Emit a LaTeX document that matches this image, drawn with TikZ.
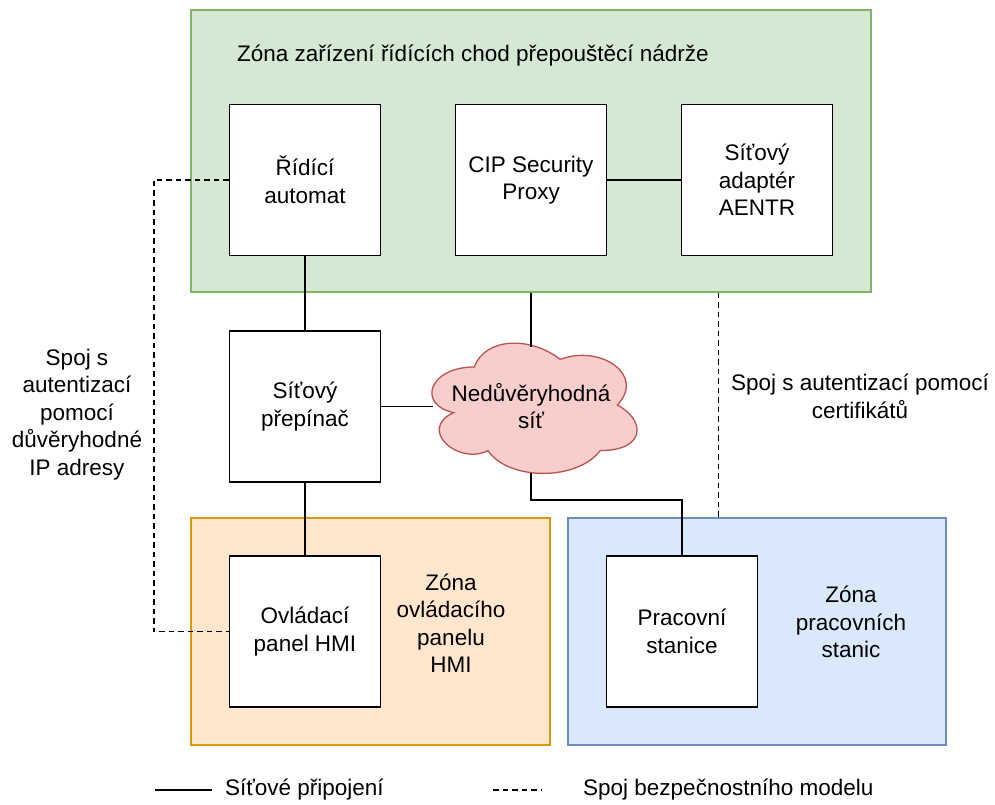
\documentclass[tikz,border=0pt]{standalone}
\usepackage{fontspec}
\setmainfont{Liberation Sans}
\usetikzlibrary{calc}

\definecolor{ctrlfill}{HTML}{D5E8D4}
\definecolor{ctrlline}{HTML}{82B366}
\definecolor{hmifill}{HTML}{FFE6CC}
\definecolor{hmiline}{HTML}{D79B00}
\definecolor{wsfill}{HTML}{DAE8FC}
\definecolor{wsline}{HTML}{6C8EBF}
\definecolor{cloudfill}{HTML}{F8CECC}
\definecolor{cloudline}{HTML}{B85450}

\newcommand{\lblfont}{\fontsize{22.5}{27.5}\selectfont}

\tikzset{
  zone/.style={draw, line width=1.3pt, inner sep=0pt},
  devbox/.style={draw=black, fill=white, line width=1.5pt, inner sep=0pt,
    minimum width=151pt, minimum height=151pt, align=center, font=\lblfont},
  lbl/.style={align=center, font=\lblfont, inner sep=0pt},
  netlink/.style={draw=black, line width=1.5pt},
  seclink/.style={draw=black, line width=1.5pt, dash pattern=on 5.5pt off 4pt},
}

\begin{document}
\begin{tikzpicture}[x=1pt, y=-1pt]
\useasboundingbox (0,0) rectangle (995,805);

% zones
\node[zone, fill=ctrlfill, draw=ctrlline, minimum width=680pt, minimum height=282pt] (zctrl) at (531,151) {};
\node[zone, fill=hmifill, draw=hmiline, minimum width=359pt, minimum height=227pt] (zhmi) at (370.5,631.5) {};
\node[zone, fill=wsfill, draw=wsline, minimum width=378pt, minimum height=227pt] (zws) at (757,631.5) {};

\node[lbl, anchor=base west] (tctrl) at (237,62) {Zóna zařízení řídících chod přepouštěcí nádrže};
\node[lbl] (thmi) at (451,623) {Zóna\\ovládacího\\panelu\\HMI};
\node[lbl] (tws) at (851,622) {Zóna\\pracovních\\stanic};

% devices
\node[devbox] (plc) at (305,180) {Řídící\\automat};
\node[devbox] (cip) at (531,180) {CIP Security\\Proxy};
\node[devbox] (aentr) at (757,180) {Síťový\\adaptér\\AENTR};
\node[devbox] (switch) at (305,406.5) {Síťový\\přepínač};
\node[devbox] (hmi) at (305,631.5) {Ovládací\\panel HMI};
\node[devbox] (ws) at (682,631.5) {Pracovní\\stanice};

% untrusted network cloud
\begin{scope}[shift={(417,329)}, x=229pt, y=-152pt]
  \draw[fill=cloudfill, draw=cloudline, line width=1.3pt]
    (0.25,0.25) .. controls (0.05,0.25) and (0,0.5) .. (0.16,0.55)
    .. controls (0,0.66) and (0.18,0.9) .. (0.31,0.8)
    .. controls (0.4,1) and (0.7,1) .. (0.8,0.8)
    .. controls (1,0.8) and (1,0.6) .. (0.875,0.5)
    .. controls (1,0.3) and (0.8,0.1) .. (0.625,0.2)
    .. controls (0.5,0.05) and (0.3,0.05) .. (0.25,0.25) -- cycle;
\end{scope}
\node[lbl] (net) at (531,406) {Nedůvěryhodná\\síť};
\coordinate (nettop) at (531,347);
\coordinate (netleft) at (433,406.5);
\coordinate (netbot) at (531,473);

% network connections
\draw[netlink] (cip) -- (aentr);
\draw[netlink] (plc) -- (switch);
\draw[netlink] (switch) -- (hmi);
\draw[netlink] (switch.east) -- (netleft);
\draw[netlink] (zctrl.south -| nettop) -- (nettop);
\draw[netlink] (netbot) -- ++(0,27) -| (ws.north);

% security model links
\draw[seclink] (plc.west) -- ++(-75,0) |- (hmi.west);
\coordinate (certtop) at ($(zctrl.south west)!0.775!(zctrl.south east)$);
\draw[seclink] (certtop) -- (certtop |- zws.north);

\node[lbl] (tip) at (77,414.5) {Spoj s\\autentizací\\pomocí\\důvěryhodné\\IP adresy};
\node[lbl] (tcert) at (860,396.5) {Spoj s autentizací pomocí\\certifikátů};

% legend
\coordinate (lgA1) at (155,790);
\coordinate (lgA2) at (212,790);
\coordinate (lgB1) at (493,790);
\coordinate (lgB2) at (542,790);
\draw[netlink] (lgA1) -- (lgA2);
\draw[seclink] (lgB1) -- (lgB2);
\node[lbl, anchor=west] (lgAt) at (225,790) {Síťové připojení};
\node[lbl, anchor=west] (lgBt) at (583,790) {Spoj bezpečnostního modelu};
\end{tikzpicture}
\end{document}
